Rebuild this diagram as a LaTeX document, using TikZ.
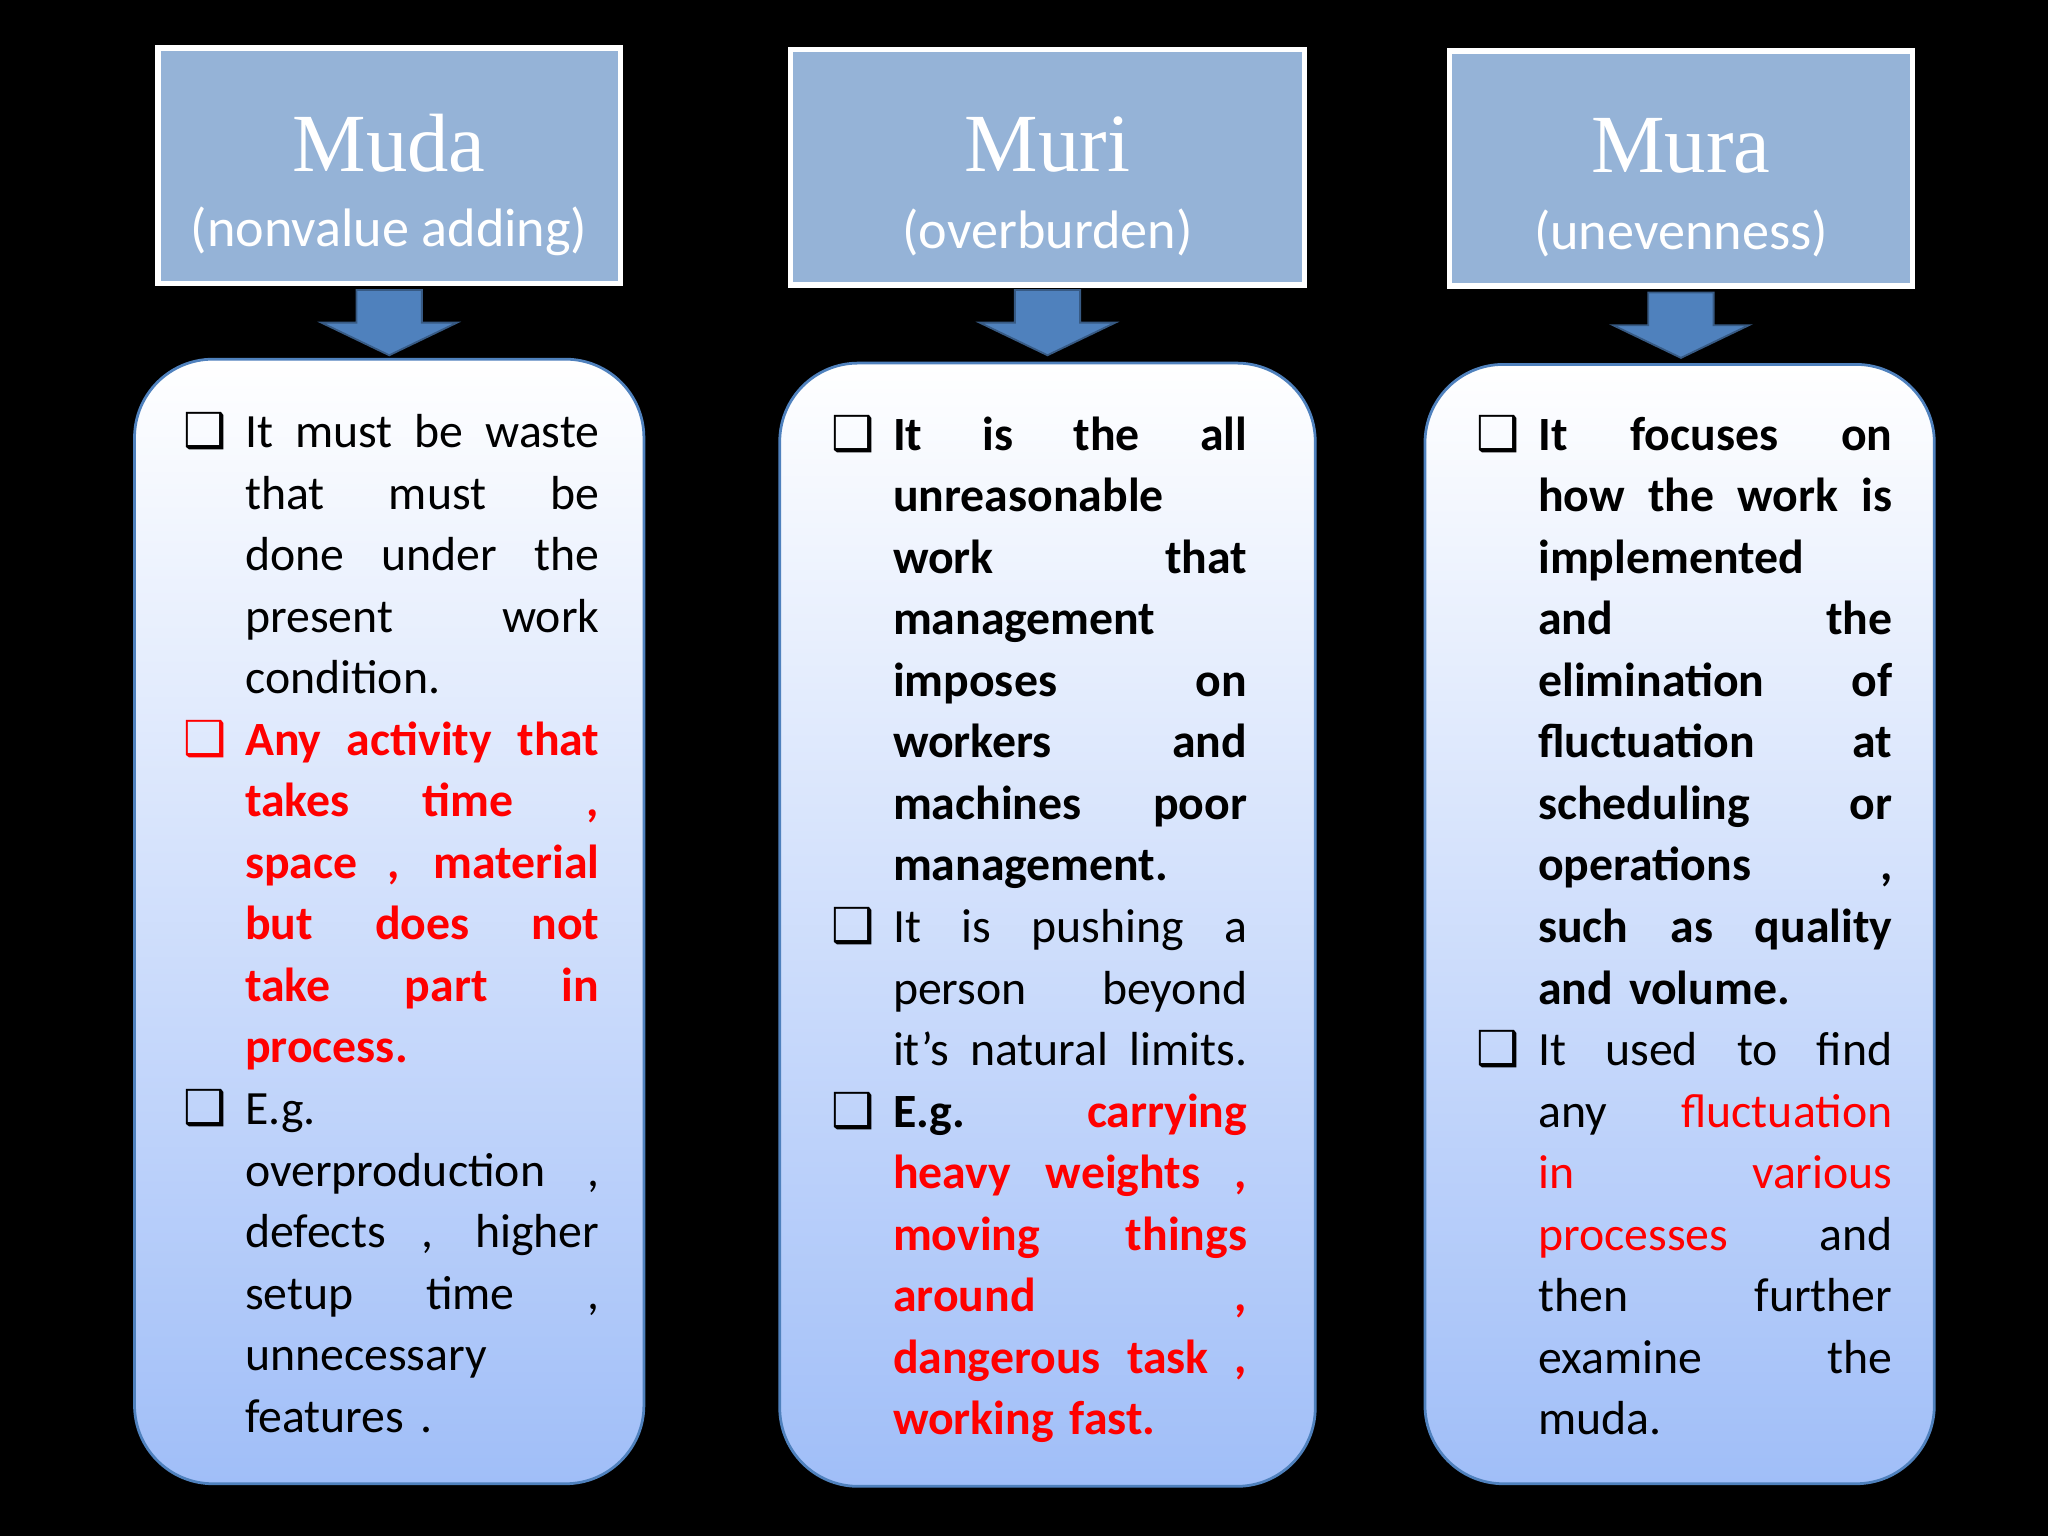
\documentclass[tikz,border=0pt]{standalone}
\usepackage{fontspec}
\setmainfont{Carlito}
\newfontfamily\titlefont{Liberation Serif}
\newfontfamily\symfont{DejaVu Sans}
\definecolor{hdr}{RGB}{149,179,215}
\definecolor{arr}{RGB}{79,129,189}
\definecolor{boxbot}{RGB}{160,190,248}
\definecolor{rd}{RGB}{255,0,0}
\newcommand{\bul}[1]{\makebox[0.47cm][l]{\color{#1}\symfont\fontsize{10.5}{10}\selectfont\bfseries ❑}}
\newcommand{\sj}[1]{\hbox to 2.71cm{\spaceskip=0.25em plus 1fil\xspaceskip=0.25em plus 1fil #1}}
\newcommand{\BJ}[2]{\noindent\bul{#1}\sj{#2}\par}
\newcommand{\BL}[2]{\noindent\bul{#1}\makebox[2.71cm][l]{#2}\par}
\newcommand{\J}[1]{\noindent\hspace*{0.47cm}\sj{#1}\par}
\newcommand{\Lf}[1]{\noindent\hspace*{0.47cm}\makebox[2.71cm][l]{#1}\par}
\tikzset{
 hdrbox/.style={draw=white,line width=1.2pt,fill=hdr,minimum height=1.8cm,inner sep=0pt},
 body/.style={draw=arr,line width=0.6pt,rounded corners=0.6cm,top color=white,bottom color=boxbot},
 txt/.style={anchor=north west,inner sep=0pt,text width=3.18cm,font=\fontsize{10.4}{13.4}\selectfont},
 darr/.style={fill=arr,draw=arr!70!black,line width=0.4pt}
}
\begin{document}
\begin{tikzpicture}[x=0.01cm,y=-0.01cm]
\fill[black] (0,0) rectangle (1568,1176);
\useasboundingbox (0,0) rectangle (1568,1176);
\node[hdrbox,minimum width=3.54cm] (h1) at (298,127) {};
\node[hdrbox,minimum width=3.93cm] (h2) at (802,128) {};
\node[hdrbox,minimum width=3.54cm] (h3) at (1287,129) {};
\foreach \n/\t/\s in {h1/Muda/(nonvalue adding),h2/Muri/(overburden),h3/Mura/(unevenness)}{
 \node[white,font=\titlefont\fontsize{18}{20}\selectfont] (\n t) at ([yshift=0.17cm]\n.center) {\t};
 \node[white,font=\fontsize{11.8}{13}\selectfont] (\n s) at ([yshift=-0.5cm]\n.center) {\s};
}
\foreach \c/\y in {298/222,802/222,1287/224}{
 \draw[darr] (\c-25,\y) -- (\c+25,\y) -- (\c+25,\y+25) -- (\c+52,\y+25) -- (\c,\y+50) -- (\c-52,\y+25) -- (\c-25,\y+25) -- cycle;
}
\draw[body] (103,275) rectangle (493,1136);
\draw[body] (597,278) rectangle (1007,1138);
\draw[body] (1091,279) rectangle (1481,1136);
\node[txt] (b1) at (140,315) {%
\BJ{black}{It must be waste}\J{that must be}\J{done under the}\J{present work}\Lf{condition.}
{\color{rd}\bfseries\BJ{rd}{Any activity that}\J{takes time ,}\J{space , material}\J{but does not}\J{take part in}\Lf{process.}}
\BL{black}{E.g.}\J{overproduction ,}\J{defects , higher}\J{setup time ,}\Lf{unnecessary}\Lf{features .}};
\node[txt] (b2) at (636,317) {%
{\bfseries\BJ{black}{It is the all}\Lf{unreasonable}\J{work that}\Lf{management}\J{imposes on}\J{workers and}\J{machines poor}\Lf{management.}}
\BJ{black}{It is pushing a}\J{person beyond}\J{it’s natural limits.}
{\bfseries\BJ{black}{E.g. {\color{rd}carrying}}\color{rd}\J{heavy weights ,}\J{moving things}\J{around ,}\J{dangerous task ,}\Lf{working fast.}}};
\node[txt] (b3) at (1130,317) {%
{\bfseries\BJ{black}{It focuses on}\J{how the work is}\Lf{implemented}\J{and the}\J{elimination of}\J{fluctuation at}\J{scheduling or}\J{operations ,}\J{such as quality}\Lf{and volume.}}
\BJ{black}{It used to find}\J{any {\color{rd}fluctuation}}{\color{rd}\J{in various}}\J{{\color{rd}processes} and}\J{then further}\J{examine the}\Lf{muda.}};
\end{tikzpicture}
\end{document}
